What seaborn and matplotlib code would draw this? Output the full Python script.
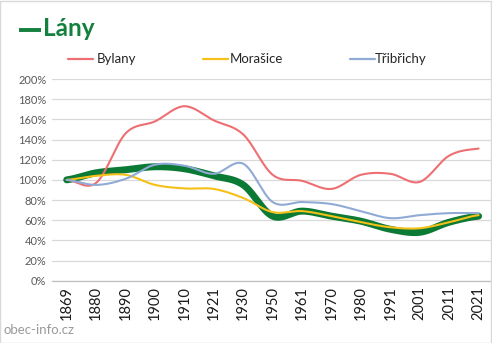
import numpy as np
import pandas as pd
import matplotlib
matplotlib.use("Agg")
import matplotlib.pyplot as plt
import seaborn as sns
from matplotlib.patches import Rectangle

years = ["1869", "1880", "1890", "1900", "1910", "1921", "1930", "1950",
         "1961", "1970", "1980", "1991", "2001", "2011", "2021"]
lany = [100, 107, 110, 113, 111, 104, 95, 64, 69, 64, 59, 51, 48, 58, 64]
bylany = [100, 97, 146, 158, 173, 159, 145, 105, 99, 91, 105, 106, 98, 124, 131]
morasice = [100, 104, 105, 95, 91.5, 91, 82, 68, 69, 64, 58, 53, 52, 58, 65]
tribrichy = [100, 95, 101, 115, 114, 106, 116, 78, 78, 76, 69, 62, 65, 67, 67]

series = [("Lány", lany, "#0b7a35", 5.0),
          ("Bylany", bylany, "#ee6f72", 1.5),
          ("Morašice", morasice, "#f5c018", 1.5),
          ("Třibřichy", tribrichy, "#90aad6", 1.5)]


def catmull_rom(xs, ys, n=30):
    xs = np.asarray(xs, float)
    ys = np.asarray(ys, float)
    px = np.concatenate([[2 * xs[0] - xs[1]], xs, [2 * xs[-1] - xs[-2]]])
    py = np.concatenate([[ys[0]], ys, [ys[-1]]])
    ox, oy = [], []
    for i in range(1, len(px) - 2):
        t = np.linspace(0, 1, n, endpoint=False)
        p0x, p1x, p2x, p3x = px[i - 1:i + 3]
        p0y, p1y, p2y, p3y = py[i - 1:i + 3]
        c1x, c1y = p1x + (p2x - p0x) / 6, p1y + (p2y - p0y) / 6
        c2x, c2y = p2x - (p3x - p1x) / 6, p2y - (p3y - p1y) / 6
        bx = ((1 - t) ** 3) * p1x + 3 * ((1 - t) ** 2) * t * c1x + 3 * (1 - t) * t ** 2 * c2x + t ** 3 * p2x
        by = ((1 - t) ** 3) * p1y + 3 * ((1 - t) ** 2) * t * c1y + 3 * (1 - t) * t ** 2 * c2y + t ** 3 * p2y
        ox.extend(bx)
        oy.extend(by)
    ox.append(xs[-1])
    oy.append(ys[-1])
    return np.array(ox), np.array(oy)


sns.set_theme(style="white")
plt.rcParams['font.family'] = ['Lato', 'DejaVu Sans']

W, H = 492, 343
fig = plt.figure(figsize=(W / 100, H / 100), dpi=100)
fig.patches.append(Rectangle((0.001, 0.001), 0.997, 0.996, transform=fig.transFigure,
                             fill=False, edgecolor="#d9d9d9", linewidth=1.0))

ax = fig.add_axes([52 / W, 1 - 280.7 / H, (493.3 - 52) / W, (280.7 - 79) / H])

idx = np.arange(len(years))
for z, (name, vals, col, lw) in enumerate(series):
    sx, sy = catmull_rom(idx, vals)
    df = pd.DataFrame({"x": sx, "y": sy})
    sns.lineplot(data=df, x="x", y="y", ax=ax, color=col, linewidth=lw,
                 sort=False, estimator=None, zorder=3 + z,
                 solid_capstyle="round", solid_joinstyle="round")

ax.set_xlim(-0.5, len(years) - 0.5)
ax.set_ylim(0, 200)
ax.set_yticks(np.arange(0, 201, 20))
ax.set_yticklabels([f"{v}%" for v in range(0, 201, 20)], fontsize=8, color="#595959")
ax.set_xticks(idx)
ax.set_xticklabels(years, rotation=90, fontsize=10.5, color="#1a1a1a")
ax.set_xticks(np.arange(-0.5, len(years), 1), minor=True)
ax.tick_params(axis="x", which="major", length=0, pad=4)
ax.tick_params(axis="x", which="minor", length=5, color="#bfbfbf", width=0.8, direction="out")
ax.tick_params(axis="y", length=0, pad=4)
ax.set_xlabel("")
ax.set_ylabel("")
ax.grid(axis="y", color="#d9d9d9", linewidth=0.9)
ax.grid(axis="x", visible=False)
for s in ["top", "right", "left"]:
    ax.spines[s].set_visible(False)
ax.spines["bottom"].set_color("#bfbfbf")
ax.spines["bottom"].set_linewidth(0.9)
ax.set_axisbelow(True)

# title
fig.add_artist(plt.Line2D([19 / W, 41 / W], [1 - 29.5 / H, 1 - 29.5 / H], color="#13803e",
                          linewidth=2.8, solid_capstyle="butt", transform=fig.transFigure))
fig.text(43 / W, 1 - 29 / H, "Lány", fontsize=17.5, fontweight="bold", color="#13803e",
         va="center", ha="left")

# legend
leg = [("Bylany", "#ee6f72", 68, 97), ("Morašice", "#f5c018", 203, 230),
       ("Třibřichy", "#90aad6", 350, 375)]
for name, col, lx, tx in leg:
    fig.add_artist(plt.Line2D([lx / W, (lx + 25) / W], [1 - 59 / H, 1 - 59 / H], color=col,
                              linewidth=1.6, transform=fig.transFigure))
    fig.text(tx / W, 1 - 59 / H, name, fontsize=9.5, color="#262626", va="center", ha="left")

fig.text(3 / W, 1 - 330 / H, "obec-info.cz", fontsize=9.5, color="#9a9a9a", va="center", ha="left")

fig.savefig("out.png", dpi=100)
